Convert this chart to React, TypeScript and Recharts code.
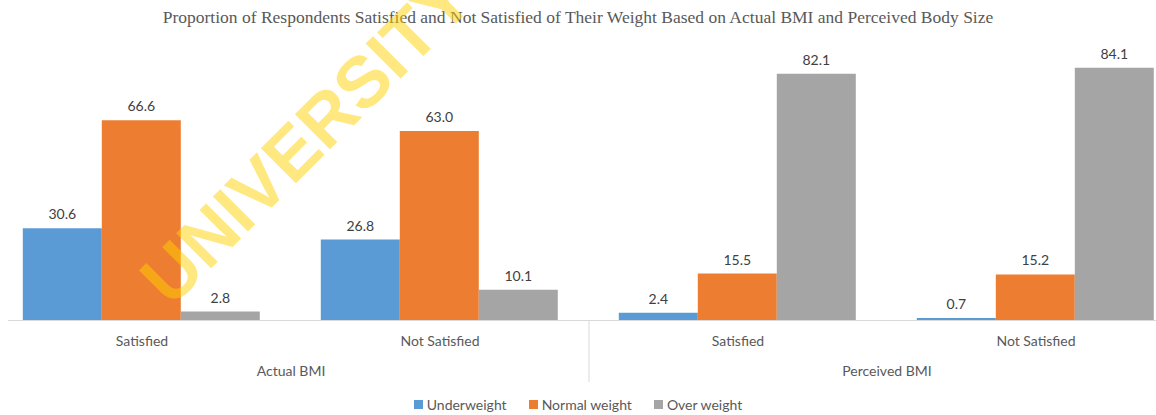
import React from 'react';
import { BarChart, Bar, XAxis, YAxis, LabelList } from 'recharts';

const categories = ['Satisfied', 'Not Satisfied', 'Satisfied', 'Not Satisfied'];
const groups = ['Actual BMI', 'Actual BMI', 'Perceived BMI', 'Perceived BMI'];
const underweight = [30.6, 26.8, 2.4, 0.7];
const normalWeight = [66.6, 63.0, 15.5, 15.2];
const overWeight = [2.8, 10.1, 82.1, 84.1];

const series = [
  { key: 'underweight', name: 'Underweight', color: '#5B9BD5' },
  { key: 'normal', name: 'Normal weight', color: '#ED7D31' },
  { key: 'over', name: 'Over weight', color: '#A5A5A5' },
];

const data = categories.map((c, i) => ({
  category: c,
  group: groups[i],
  underweight: underweight[i],
  normal: normalWeight[i],
  over: overWeight[i],
}));

const FONT = 'Lato, "Noto Sans", sans-serif';
const CHART_W = 1192;
const BAND = CHART_W / categories.length;

const CategoryTick = (props: any) => {
  const { x, y, payload, index } = props;
  const first = index === 0 || groups[index] !== groups[index - 1];
  return (
    <g>
      <text x={x} y={y + 20} textAnchor="middle" dominantBaseline="central" fill="#595959" fontSize={14} fontFamily={FONT}>
        {payload.value}
      </text>
      {first && (
        <text x={x + BAND / 2} y={y + 50} textAnchor="middle" dominantBaseline="central" fill="#595959" fontSize={14} fontFamily={FONT}>
          {groups[index]}
        </text>
      )}
      {first && index > 0 && (
        <line x1={x - BAND / 2} x2={x - BAND / 2} y1={y} y2={y + 62} stroke="#d9d9d9" strokeWidth={1} />
      )}
    </g>
  );
};

export default function App() {
  return (
    <div style={{ position: 'fixed', left: 0, top: 0, width: 1156, height: 415, overflow: 'hidden', background: '#fff', fontFamily: FONT }}>
      <div style={{ position: 'absolute', top: 7, left: 0, width: 1156, textAlign: 'center', fontFamily: '"Liberation Serif", serif', fontSize: 17.5, color: '#595959' }}>
        Proportion of Respondents Satisfied and Not Satisfied of Their Weight Based on Actual BMI and Perceived Body Size
      </div>
      <div style={{ position: 'absolute', left: -7, top: 0 }}>
        <BarChart width={CHART_W} height={415} data={data} margin={{ top: 50, right: 0, left: 0, bottom: 0 }} barCategoryGap="10%" barGap={0}>
          <XAxis dataKey="category" height={95} axisLine={false} tickLine={false} tickSize={0} tickMargin={0} interval={0} tick={<CategoryTick />} />
          <YAxis hide domain={[0, 90]} />
          {series.map((s) => (
            <Bar key={s.key} dataKey={s.key} name={s.name} fill={s.color} isAnimationActive={false}>
              <LabelList dataKey={s.key} position="top" offset={9} fill="#404040" fontSize={14} fontFamily={FONT} formatter={(v: any) => Number(v).toFixed(1)} />
            </Bar>
          ))}
        </BarChart>
      </div>
      <div style={{ position: 'absolute', left: 8, top: 320, width: 1148, height: 1, background: '#d9d9d9' }} />
      <div style={{ position: 'absolute', top: 396, left: 0, width: 1156, display: 'flex', justifyContent: 'center', gap: 22, fontSize: 14, color: '#595959' }}>
        {series.map((s) => (
          <div key={s.key} style={{ display: 'flex', alignItems: 'center', gap: 4 }}>
            <span style={{ width: 9, height: 9, background: s.color, display: 'inline-block' }} />
            <span>{s.name}</span>
          </div>
        ))}
      </div>
      <div style={{ position: 'absolute', left: 306, top: 138, transform: 'translate(-50%, -50%) rotate(-45deg)', fontFamily: '"Liberation Sans", Arial, sans-serif', fontWeight: 'bold', fontSize: 72, color: 'rgba(255, 210, 0, 0.5)', whiteSpace: 'nowrap', pointerEvents: 'none' }}>
        UNIVERSITY
      </div>
    </div>
  );
}
